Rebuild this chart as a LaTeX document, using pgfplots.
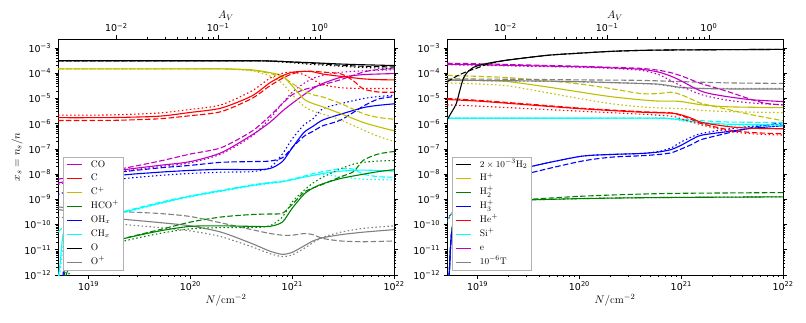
\documentclass[border=0pt]{standalone}
\usepackage{fontspec}
\usepackage{pgfplots}
\pgfplotsset{compat=1.18}
\newfontfamily\dejavu{DejaVu Sans}
\newcommand{\mm}{\char"2212\relax}
\definecolor{mpm}{rgb}{0.75,0,0.75}
\definecolor{mpr}{rgb}{1,0,0}
\definecolor{mpy}{rgb}{0.75,0.75,0}
\definecolor{mpg}{rgb}{0,0.5,0}
\definecolor{mpb}{rgb}{0,0,1}
\definecolor{mpc}{rgb}{0,1,1}
\definecolor{mpk}{rgb}{0,0,0}
\definecolor{mpgr}{rgb}{0.5,0.5,0.5}
\pgfplotsset{legend image code/.code={\draw[line width=1.1pt, #1] (0pt,0pt) -- (15pt,0pt);}}
\tikzset{
  crvA/.style={line width=1.1pt, smooth, tension=0.45},
  crvB/.style={crvA, dash pattern=on 5.5pt off 2.4pt},
  crvC/.style={crvA, dash pattern=on 1.5pt off 2.5pt},
  lgd/.style={at={(0.014,0.02)}, anchor=south west, draw=black!30, line width=0.6pt, fill=white,
      font=\fontsize{9.5}{11}\selectfont, inner xsep=3pt, inner ysep=2pt, row sep=2.2pt,
      nodes={inner sep=1.3pt, text height=6.8pt, text depth=2.3pt},
      every odd column/.append style={column sep=7.5pt}},
  tkl/.style={font=\dejavu\fontsize{9.5}{11}\selectfont},
  lbl/.style={font=\fontsize{11}{13}\selectfont},
  tks/.style={black, line width=0.6pt},
  axl/.style={line width=0.8pt}
}
\begin{document}
\begin{tikzpicture}
\path[use as bounding box] (0pt,0pt) rectangle (806pt,322pt);
% ---------------- left panel ----------------
\begin{axis}[at={(58pt,47pt)}, anchor=south west,
    scale only axis, width=336pt, height=236pt,
    xmode=log, ymode=log, xmin=5e18, xmax=1e22, ymin=1e-12, ymax=2.3e-3,
    xtickten={19,20,21,22}, ytickten={-12,-11,-10,-9,-8,-7,-6,-5,-4,-3},
    xticklabels={10\textsuperscript{19},10\textsuperscript{20},10\textsuperscript{21},10\textsuperscript{22}},
    yticklabels={10\textsuperscript{\mm12},10\textsuperscript{\mm11},10\textsuperscript{\mm10},10\textsuperscript{\mm9},10\textsuperscript{\mm8},10\textsuperscript{\mm7},10\textsuperscript{\mm6},10\textsuperscript{\mm5},10\textsuperscript{\mm4},10\textsuperscript{\mm3}},
    tick align=outside, xtick pos=left, ytick pos=both, yticklabel pos=left,
    tick label style={tkl}, major tick length=3.5pt, minor tick length=2pt,
    every tick/.style={tks}, axis line style={axl},
    xlabel={$N/\mathrm{cm}^{-2}$}, ylabel={$x_s = n_s/n$}, label style={lbl}, ylabel shift=-5pt, xlabel shift=-3pt,
    legend cell align=left, legend style={lgd}]
\addlegendimage{color=mpm}\addlegendentry{CO}
\addlegendimage{color=mpr}\addlegendentry{C}
\addlegendimage{color=mpy}\addlegendentry{C$^+$}
\addlegendimage{color=mpg}\addlegendentry{HCO$^+$}
\addlegendimage{color=mpb}\addlegendentry{OH$_x$}
\addlegendimage{color=mpc}\addlegendentry{CH$_x$}
\addlegendimage{color=mpk}\addlegendentry{O}
\addlegendimage{color=mpgr}\addlegendentry{O$^+$}
% O+
\addplot[forget plot, mpgr, crvA] coordinates {(5e18,3.98e-10) (1e19,2.51e-10) (2e19,1.70e-10) (5e19,1.20e-10) (1e20,8.91e-11) (2e20,5.01e-11) (4e20,1.78e-11) (6e20,8.91e-12) (8e20,6.61e-12) (1e21,7.94e-12) (1.3e21,1.41e-11) (1.6e21,2.24e-11) (2e21,3.02e-11) (3e21,3.98e-11) (5e21,5.01e-11) (1e22,6.31e-11)};
\addplot[forget plot, mpgr, crvB] coordinates {(5e18,5.01e-10) (1e19,3.98e-10) (2e19,3.31e-10) (5e19,2.75e-10) (1e20,2.09e-10) (2e20,1.17e-10) (4e20,6.31e-11) (6e20,4.47e-11) (8e20,3.80e-11) (1e21,3.80e-11) (1.3e21,4.37e-11) (1.6e21,3.98e-11) (2e21,2.82e-11) (3e21,2.24e-11) (5e21,2.09e-11) (1e22,2.24e-11)};
\addplot[forget plot, mpgr, crvC] coordinates {(5e18,2.0e-10) (1e19,1.41e-10) (2e19,1.05e-10) (5e19,7.59e-11) (1e20,5.62e-11) (2e20,3.31e-11) (4e20,1.32e-11) (6e20,7.08e-12) (8e20,5.37e-12) (1e21,6.31e-12) (1.3e21,1.12e-11) (1.6e21,1.91e-11) (2e21,3.16e-11) (3e21,5.01e-11) (5e21,7.08e-11) (1e22,8.91e-11)};
% O
\addplot[forget plot, mpk, crvA] coordinates {(5e18,3.16e-4) (1e19,3.16e-4) (1e20,3.16e-4) (4e20,3.16e-4) (6e20,3.09e-4) (8e20,2.95e-4) (1e21,2.82e-4) (1.6e21,2.63e-4) (3e21,2.34e-4) (5e21,2.19e-4) (1e22,2.04e-4)};
\addplot[forget plot, mpk, crvB] coordinates {(5e18,3.16e-4) (1e20,3.16e-4) (4e20,3.16e-4) (6e20,3.09e-4) (8e20,2.95e-4) (1e21,2.82e-4) (1.6e21,2.51e-4) (3e21,2.09e-4) (5e21,1.91e-4) (1e22,1.78e-4)};
\addplot[forget plot, mpk, crvC] coordinates {(5e18,3.16e-4) (1e20,3.16e-4) (4e20,3.16e-4) (6e20,3.02e-4) (8e20,2.82e-4) (1e21,2.63e-4) (1.6e21,2.24e-4) (3e21,1.91e-4) (5e21,1.70e-4) (1e22,1.55e-4)};
% CHx
\addplot[forget plot, mpc, crvA] coordinates {(5e18,6.31e-13) (5.25e18,3.16e-12) (5.6e18,3.98e-11) (6.3e18,1.12e-10) (1e19,1.58e-10) (2e19,2.82e-10) (5e19,7.08e-10) (1e20,1.32e-9) (2e20,2.19e-9) (4e20,3.55e-9) (6e20,4.47e-9) (8e20,5.01e-9) (1e21,6.03e-9) (1.3e21,7.59e-9) (1.6e21,8.91e-9) (2e21,1.07e-8) (3e21,1.32e-8) (5e21,1.45e-8) (1e22,1.32e-8)};
\addplot[forget plot, mpc, crvB] coordinates {(5e18,5.01e-11) (6.3e18,1.12e-10) (1e19,1.66e-10) (2e19,3.02e-10) (5e19,7.59e-10) (1e20,1.38e-9) (2e20,2.29e-9) (4e20,3.72e-9) (6e20,4.68e-9) (8e20,5.25e-9) (1e21,6.31e-9) (1.3e21,8.32e-9) (1.6e21,1.05e-8) (2e21,1.26e-8) (3e21,1.66e-8) (4e21,1.58e-8) (5e21,1e-8) (7e21,7.94e-9) (1e22,7.59e-9)};
\addplot[forget plot, mpc, crvC] coordinates {(5e18,3.16e-13) (5.37e18,3.16e-12) (5.75e18,3.16e-11) (6.3e18,1e-10) (1e19,1.51e-10) (2e19,2.69e-10) (5e19,6.76e-10) (1e20,1.26e-9) (2e20,2.09e-9) (4e20,3.39e-9) (6e20,4.27e-9) (8e20,5.01e-9) (1e21,6.31e-9) (1.3e21,7.94e-9) (1.6e21,8.91e-9) (2e21,9.55e-9) (3e21,7.94e-9) (5e21,6.31e-9) (1e22,5.89e-9)};
% HCO+
\addplot[forget plot, mpg, crvA] coordinates {(5e18,1e-13) (6e18,1e-12) (7e18,3.98e-12) (1e19,1e-11) (2e19,2.51e-11) (5e19,5.62e-11) (1e20,8.51e-11) (2e20,8.91e-11) (4e20,8.51e-11) (6e20,8.51e-11) (8e20,1.26e-10) (1e21,4.47e-10) (1.3e21,1.58e-9) (1.6e21,2.82e-9) (2e21,4.17e-9) (3e21,6.76e-9) (5e21,1e-8) (7e21,1.26e-8) (1e22,1.51e-8)};
\addplot[forget plot, mpg, crvB] coordinates {(5e18,1e-13) (5.75e18,1e-12) (6.6e18,3.16e-12) (1e19,1e-11) (2e19,2.51e-11) (5e19,6.31e-11) (1e20,1.26e-10) (2e20,2.0e-10) (4e20,2.51e-10) (6e20,2.63e-10) (8e20,2.82e-10) (1e21,6.31e-10) (1.3e21,1.91e-9) (1.6e21,2.82e-9) (2e21,3.98e-9) (3e21,7.94e-9) (4e21,1.26e-8) (5e21,3.55e-8) (7e21,6.31e-8) (1e22,7.94e-8)};
\addplot[forget plot, mpg, crvC] coordinates {(5e18,1e-13) (6.3e18,1e-12) (7.9e18,3.98e-12) (1e19,7.94e-12) (2e19,2.0e-11) (5e19,4.47e-11) (1e20,6.76e-11) (2e20,7.59e-11) (4e20,7.59e-11) (6e20,8.91e-11) (8e20,2e-10) (1e21,7.94e-10) (1.3e21,2.24e-9) (1.6e21,4.47e-9) (2e21,7.59e-9) (3e21,1.66e-8) (4e21,2.51e-8) (5e21,2.95e-8) (7e21,3.31e-8) (1e22,3.47e-8)};
% OHx
\addplot[forget plot, mpb, crvA] coordinates {(5e18,1e-13) (5.7e18,1e-12) (6e18,3.16e-11) (7e18,1e-9) (1e19,5.01e-9) (2e19,8.91e-9) (5e19,1.2e-8) (1e20,1.41e-8) (2e20,1.55e-8) (4e20,1.51e-8) (6e20,1.66e-8) (8e20,3.16e-8) (1e21,1.12e-7) (1.3e21,4.47e-7) (1.6e21,7.94e-7) (2e21,1.41e-6) (3e21,2.40e-6) (5e21,4.37e-6) (7e21,5.37e-6) (1e22,6.17e-6)};
\addplot[forget plot, mpb, crvB] coordinates {(5e18,1e-13) (5.6e18,1e-12) (6e18,1e-10) (7e18,2.51e-9) (1e19,7.94e-9) (2e19,1.2e-8) (5e19,1.78e-8) (1e20,2.24e-8) (2e20,2.95e-8) (4e20,3.16e-8) (6e20,3.31e-8) (8e20,4.47e-8) (1e21,1.12e-7) (1.3e21,3.16e-7) (1.6e21,5.01e-7) (2e21,8.32e-7) (3e21,1.41e-6) (5e21,5.01e-6) (7e21,9.55e-6) (1e22,1.20e-5)};
\addplot[forget plot, mpb, crvC] coordinates {(5e18,1.58e-9) (1e19,3.55e-9) (2e19,6.31e-9) (5e19,8.91e-9) (1e20,1.07e-8) (2e20,1.2e-8) (4e20,1.26e-8) (6e20,1.78e-8) (8e20,6.31e-8) (1e21,2.51e-7) (1.3e21,8.91e-7) (1.6e21,1.58e-6) (2e21,3.98e-6) (3e21,6.31e-6) (5e21,1e-5) (7e21,1.2e-5) (1e22,1.35e-5)};
% CO
\addplot[forget plot, mpm, crvA] coordinates {(5e18,4.47e-9) (1e19,7.94e-9) (2e19,1.41e-8) (5e19,2.24e-8) (1e20,3.16e-8) (2e20,7.08e-8) (4e20,3.55e-7) (6e20,1.12e-6) (8e20,3.16e-6) (1e21,6.46e-6) (1.3e21,1.41e-5) (1.6e21,2.51e-5) (2e21,3.98e-5) (3e21,6.92e-5) (5e21,8.91e-5) (1e22,9.77e-5)};
\addplot[forget plot, mpm, crvB] coordinates {(5e18,6.31e-9) (1e19,1e-8) (2e19,1.58e-8) (5e19,3.31e-8) (1e20,6.31e-8) (2e20,1.12e-7) (4e20,5.01e-7) (6e20,2.0e-6) (8e20,6.31e-6) (1e21,1.41e-5) (1.3e21,2.24e-5) (1.6e21,2.82e-5) (2e21,3.55e-5) (3e21,5.62e-5) (5e21,1.12e-4) (7e21,1.41e-4) (1e22,1.51e-4)};
\addplot[forget plot, mpm, crvC] coordinates {(5e18,3.98e-9) (1e19,7.08e-9) (2e19,1.26e-8) (5e19,2.0e-8) (1e20,2.82e-8) (2e20,6.31e-8) (4e20,3.16e-7) (6e20,1.58e-6) (8e20,6.31e-6) (1e21,1.78e-5) (1.3e21,3.98e-5) (1.6e21,6.31e-5) (2e21,8.32e-5) (3e21,1.10e-4) (5e21,1.26e-4) (1e22,1.38e-4)};
% C+
\addplot[forget plot, mpy, crvA] coordinates {(5e18,1.51e-4) (1e20,1.51e-4) (2e20,1.51e-4) (4e20,1.38e-4) (6e20,1.07e-4) (8e20,7.94e-5) (1e21,3.16e-5) (1.3e21,9.55e-6) (1.6e21,6.31e-6) (2e21,4.68e-6) (3e21,2.51e-6) (5e21,1.12e-6) (7e21,7.59e-7) (1e22,5.25e-7)};
\addplot[forget plot, mpy, crvB] coordinates {(5e18,1.51e-4) (1e20,1.51e-4) (2e20,1.51e-4) (4e20,1.32e-4) (6e20,1e-4) (8e20,7.08e-5) (1e21,3.98e-5) (1.3e21,2.0e-5) (1.6e21,1.41e-5) (2e21,1.15e-5) (3e21,6.31e-6) (5e21,2.51e-6) (7e21,1.78e-6) (1e22,1.51e-6)};
\addplot[forget plot, mpy, crvC] coordinates {(5e18,1.51e-4) (1e20,1.51e-4) (2e20,1.51e-4) (4e20,1.26e-4) (6e20,7.94e-5) (8e20,3.98e-5) (1e21,1.41e-5) (1.3e21,5.01e-6) (1.6e21,3.16e-6) (2e21,2.40e-6) (3e21,1.41e-6) (5e21,5.62e-7) (7e21,3.16e-7) (1e22,2.0e-7)};
% C
\addplot[forget plot, mpr, crvA] coordinates {(5e18,1.74e-6) (1e19,1.74e-6) (2e19,1.78e-6) (5e19,2.0e-6) (1e20,2.82e-6) (2e20,4.17e-6) (4e20,1.26e-5) (6e20,4.17e-5) (8e20,7.94e-5) (1e21,1.10e-4) (1.3e21,1.2e-4) (1.6e21,1.15e-4) (2e21,9.33e-5) (3e21,7.59e-5) (5e21,6.03e-5) (7e21,5.62e-5) (1e22,5.5e-5)};
\addplot[forget plot, mpr, crvB] coordinates {(5e18,1.35e-6) (1e19,1.35e-6) (2e19,1.38e-6) (5e19,1.58e-6) (1e20,2.09e-6) (2e20,3.02e-6) (4e20,1.0e-5) (6e20,3.16e-5) (8e20,6.31e-5) (1e21,9.55e-5) (1.3e21,1.2e-4) (1.6e21,1.2e-4) (2e21,1.12e-4) (3e21,9.55e-5) (4e21,5.01e-5) (5e21,2.40e-5) (7e21,1.82e-5) (1e22,1.78e-5)};
\addplot[forget plot, mpr, crvC] coordinates {(5e18,2.19e-6) (1e19,2.19e-6) (2e19,2.29e-6) (5e19,2.69e-6) (1e20,3.72e-6) (2e20,5.62e-6) (4e20,2.0e-5) (6e20,6.31e-5) (8e20,1.0e-4) (1e21,1.12e-4) (1.3e21,8.91e-5) (1.6e21,5.62e-5) (2e21,3.55e-5) (3e21,2.69e-5) (5e21,2.51e-5) (1e22,2.51e-5)};
\end{axis}
\begin{axis}[at={(58pt,47pt)}, anchor=south west,
    scale only axis, width=336pt, height=236pt,
    xmode=log, xmin=2.674e-3, xmax=5.348, ymin=0, ymax=1,
    axis x line*=top, hide y axis,
    xtickten={-2,-1,0},
    xticklabels={10\textsuperscript{\mm2},10\textsuperscript{\mm1},10\textsuperscript{0}},
    tick align=outside, tick label style={tkl},
    major tick length=3.5pt, minor tick length=2pt,
    every tick/.style={tks}, axis line style={axl},
    xlabel={$A_V$}, label style={lbl}, xlabel shift=-4pt]
\end{axis}
% ---------------- right panel ----------------
\begin{axis}[at={(447pt,47pt)}, anchor=south west,
    scale only axis, width=336pt, height=236pt,
    xmode=log, ymode=log, xmin=5e18, xmax=1e22, ymin=1e-12, ymax=2.3e-3,
    xtickten={19,20,21,22}, ytickten={-12,-11,-10,-9,-8,-7,-6,-5,-4,-3},
    xticklabels={10\textsuperscript{19},10\textsuperscript{20},10\textsuperscript{21},10\textsuperscript{22}},
    yticklabels={10\textsuperscript{\mm12},10\textsuperscript{\mm11},10\textsuperscript{\mm10},10\textsuperscript{\mm9},10\textsuperscript{\mm8},10\textsuperscript{\mm7},10\textsuperscript{\mm6},10\textsuperscript{\mm5},10\textsuperscript{\mm4},10\textsuperscript{\mm3}},
    tick align=outside, xtick pos=left, ytick pos=both, yticklabel pos=left,
    tick label style={tkl}, major tick length=3.5pt, minor tick length=2pt,
    every tick/.style={tks}, axis line style={axl},
    xlabel={$N/\mathrm{cm}^{-2}$}, label style={lbl}, xlabel shift=-3pt,
    legend cell align=left, legend style={lgd}]
\addlegendimage{color=mpk}\addlegendentry{$2\times10^{-3}\mathrm{H}_2$}
\addlegendimage{color=mpy}\addlegendentry{H$^+$}
\addlegendimage{color=mpg}\addlegendentry{H$_2^+$}
\addlegendimage{color=mpb}\addlegendentry{H$_3^+$}
\addlegendimage{color=mpr}\addlegendentry{He$^+$}
\addlegendimage{color=mpc}\addlegendentry{Si$^+$}
\addlegendimage{color=mpm}\addlegendentry{e}
\addlegendimage{color=mpgr}\addlegendentry{$10^{-6}$T}
% H2+
\addplot[forget plot, mpg, crvA] coordinates {(5e18,1e-13) (5.25e18,1e-12) (5.37e18,7.94e-12) (5.75e18,1.26e-10) (7.08e18,3.98e-10) (1e19,6.31e-10) (2e19,8.91e-10) (3.16e19,9.55e-10) (1e20,1.07e-9) (3.16e20,1.15e-9) (1e21,1.2e-9) (1e22,1.26e-9)};
\addplot[forget plot, mpg, crvB] coordinates {(5e18,1e-13) (5.25e18,1e-12) (5.37e18,7.94e-12) (5.75e18,1.26e-10) (7.08e18,3.98e-10) (1e19,6.31e-10) (2e19,8.91e-10) (3.16e19,1e-9) (1e20,1.32e-9) (3.16e20,1.58e-9) (1e21,1.74e-9) (1e22,1.86e-9)};
\addplot[forget plot, mpg, crvC] coordinates {(5e18,1.26e-10) (6e18,3.98e-10) (1e19,6.31e-10) (2e19,8.91e-10) (3.16e19,9.55e-10) (1e20,1.07e-9) (3.16e20,1.15e-9) (1e21,1.2e-9) (1e22,1.26e-9)};
% H3+
\addplot[forget plot, mpb, crvA] coordinates {(5e18,1e-13) (5.25e18,1e-12) (5.5e18,3.16e-11) (6.03e18,2e-10) (7.94e18,1e-9) (1.26e19,3.98e-9) (2e19,1e-8) (3.16e19,1.91e-8) (1e20,5.01e-8) (2e20,6.03e-8) (4e20,6.61e-8) (6e20,7.59e-8) (8e20,9.55e-8) (1e21,1.41e-7) (1.3e21,2.51e-7) (1.6e21,3.55e-7) (3e21,5.01e-7) (5e21,6.61e-7) (1e22,8.32e-7)};
\addplot[forget plot, mpb, crvB] coordinates {(5e18,1e-13) (5.25e18,1e-12) (5.5e18,3.98e-11) (6.03e18,1.58e-10) (7.94e18,6.31e-10) (1.26e19,2.51e-9) (2e19,5.62e-9) (3.16e19,1.07e-8) (1e20,3.16e-8) (2e20,4.68e-8) (4e20,5.37e-8) (6e20,6.03e-8) (8e20,7.08e-8) (1e21,1e-7) (1.3e21,1.58e-7) (1.6e21,2.40e-7) (3e21,4.47e-7) (5e21,7.08e-7) (1e22,1.12e-6)};
\addplot[forget plot, mpb, crvC] coordinates {(5e18,1.58e-10) (6e18,3.98e-10) (7.94e18,1e-9) (1.26e19,3.98e-9) (2e19,1e-8) (3.16e19,1.91e-8) (1e20,5.01e-8) (2e20,6.03e-8) (4e20,6.61e-8) (6e20,7.94e-8) (8e20,1.12e-7) (1e21,1.91e-7) (1.3e21,3.16e-7) (1.6e21,4.17e-7) (3e21,6.31e-7) (5e21,7.94e-7) (1e22,9.55e-7)};
% Si+
\addplot[forget plot, mpc, crvA] coordinates {(5e18,1.66e-6) (1e20,1.66e-6) (6e20,1.66e-6) (8e20,1.58e-6) (1e21,1.41e-6) (1.6e21,1.12e-6) (3e21,9.55e-7) (1e22,8.91e-7)};
\addplot[forget plot, mpc, crvB] coordinates {(5e18,1.66e-6) (1e20,1.66e-6) (6e20,1.66e-6) (8e20,1.62e-6) (1e21,1.51e-6) (1.6e21,1.32e-6) (3e21,1.17e-6) (1e22,1.12e-6)};
\addplot[forget plot, mpc, crvC] coordinates {(5e18,1.66e-6) (1e20,1.66e-6) (6e20,1.66e-6) (8e20,1.55e-6) (1e21,1.32e-6) (1.6e21,1e-6) (3e21,8.32e-7) (1e22,7.94e-7)};
% He+
\addplot[forget plot, mpr, crvA] coordinates {(5e18,9.12e-6) (1e19,7.94e-6) (3.16e19,5.62e-6) (1e20,3.98e-6) (4e20,2.88e-6) (8e20,2.63e-6) (1e21,2.24e-6) (1.3e21,1.58e-6) (1.6e21,1.12e-6) (3e21,7.59e-7) (5e21,6.61e-7) (1e22,6.31e-7)};
\addplot[forget plot, mpr, crvB] coordinates {(5e18,1e-5) (1e19,8.51e-6) (3.16e19,6.03e-6) (1e20,4.17e-6) (4e20,3.02e-6) (8e20,2.69e-6) (1e21,2.09e-6) (1.3e21,1.41e-6) (1.6e21,1e-6) (3e21,5.62e-7) (5e21,4.47e-7) (1e22,3.98e-7)};
\addplot[forget plot, mpr, crvC] coordinates {(5e18,5.62e-6) (1e19,5.01e-6) (3.16e19,3.98e-6) (1e20,3.16e-6) (4e20,2.40e-6) (8e20,2.0e-6) (1e21,1.58e-6) (1.6e21,8.91e-7) (3e21,5.01e-7) (5e21,3.98e-7) (1e22,3.55e-7)};
% H+
\addplot[forget plot, mpy, crvA] coordinates {(5e18,5.62e-5) (1e19,5.25e-5) (2e19,4.68e-5) (5e19,2.82e-5) (1e20,1.82e-5) (2e20,1.20e-5) (4e20,8.91e-6) (6e20,7.94e-6) (8e20,7.94e-6) (1e21,7.59e-6) (1.6e21,5.62e-6) (3e21,4.68e-6) (1e22,4.37e-6)};
\addplot[forget plot, mpy, crvB] coordinates {(5e18,8.32e-5) (1e19,7.59e-5) (2e19,6.76e-5) (5e19,5.01e-5) (1e20,3.80e-5) (2e20,2.51e-5) (4e20,1.58e-5) (6e20,1.58e-5) (8e20,1.78e-5) (1e21,1.41e-5) (1.3e21,8.91e-6) (1.6e21,6.31e-6) (3e21,3.55e-6) (5e21,2.24e-6) (1e22,1.32e-6)};
\addplot[forget plot, mpy, crvC] coordinates {(5e18,4.17e-5) (1e19,3.80e-5) (2e19,3.16e-5) (5e19,1.66e-5) (1e20,1e-5) (2e20,6.31e-6) (4e20,4.68e-6) (6e20,4.27e-6) (1e21,3.98e-6) (1.6e21,3.39e-6) (3e21,3.02e-6) (1e22,2.75e-6)};
% T
\addplot[forget plot, mpgr, crvA] coordinates {(5e18,5.37e-5) (3.16e19,5.01e-5) (1e20,4.68e-5) (4e20,3.98e-5) (6e20,3.72e-5) (8e20,3.16e-5) (1e21,2.75e-5) (1.6e21,2.51e-5) (3e21,2.40e-5) (1e22,2.40e-5)};
\addplot[forget plot, mpgr, crvB] coordinates {(5e18,6.03e-5) (3.16e19,5.75e-5) (1e20,5.5e-5) (4e20,5.25e-5) (1e21,4.68e-5) (3e21,4.17e-5) (1e22,3.98e-5)};
\addplot[forget plot, mpgr, crvC] coordinates {(5e18,5.25e-5) (3.16e19,4.9e-5) (1e20,4.57e-5) (4e20,3.89e-5) (6e20,3.55e-5) (1e21,2.63e-5) (1.6e21,2.51e-5) (1e22,2.51e-5)};
% e
\addplot[forget plot, mpm, crvA] coordinates {(5e18,2.29e-4) (1e19,2.19e-4) (3.16e19,2.0e-4) (1e20,1.82e-4) (2e20,1.66e-4) (4e20,1.45e-4) (6e20,1.12e-4) (8e20,7.59e-5) (1e21,5.01e-5) (1.3e21,2.82e-5) (1.6e21,1.91e-5) (2e21,1.51e-5) (3e21,1.15e-5) (5e21,8.91e-6) (1e22,7.59e-6)};
\addplot[forget plot, mpm, crvB] coordinates {(5e18,2.51e-4) (1e19,2.40e-4) (3.16e19,2.14e-4) (1e20,1.91e-4) (2e20,1.74e-4) (4e20,1.58e-4) (6e20,1.32e-4) (8e20,1.05e-4) (1e21,7.94e-5) (1.3e21,5.25e-5) (1.6e21,3.80e-5) (2e21,2.95e-5) (3e21,1.78e-5) (5e21,8.91e-6) (7e21,6.31e-6) (1e22,5.62e-6)};
\addplot[forget plot, mpm, crvC] coordinates {(5e18,2.19e-4) (1e19,2.09e-4) (3.16e19,1.91e-4) (1e20,1.74e-4) (2e20,1.58e-4) (4e20,1.32e-4) (6e20,8.91e-5) (8e20,5.01e-5) (1e21,3.16e-5) (1.3e21,1.91e-5) (1.6e21,1.41e-5) (2e21,1.12e-5) (3e21,8.32e-6) (5e21,6.61e-6) (1e22,5.62e-6)};
% 2e-3 H2
\addplot[forget plot, mpk, crvB] coordinates {(5e18,4.57e-5) (6.3e18,7.94e-5) (7.94e18,1.2e-4) (1e19,1.66e-4) (1.26e19,2.34e-4) (2e19,3.39e-4) (5e19,5.25e-4) (1e20,6.31e-4) (2e20,7.41e-4) (4e20,8.13e-4) (1e21,8.51e-4) (1e22,8.91e-4)};
\addplot[forget plot, mpk, crvA] coordinates {(5e18,1.41e-6) (5.62e18,3.16e-6) (6.17e18,6.31e-6) (6.76e18,2.51e-5) (7.24e18,6.31e-5) (7.94e18,1.12e-4) (9.12e18,1.74e-4) (1e19,2.0e-4) (1.26e19,2.51e-4) (2e19,3.39e-4) (5e19,5.25e-4) (1e20,6.31e-4) (2e20,7.41e-4) (4e20,8.13e-4) (1e21,8.51e-4) (1e22,8.91e-4)};
\end{axis}
\begin{axis}[at={(447pt,47pt)}, anchor=south west,
    scale only axis, width=336pt, height=236pt,
    xmode=log, xmin=2.674e-3, xmax=5.348, ymin=0, ymax=1,
    axis x line*=top, hide y axis,
    xtickten={-2,-1,0},
    xticklabels={10\textsuperscript{\mm2},10\textsuperscript{\mm1},10\textsuperscript{0}},
    tick align=outside, tick label style={tkl},
    major tick length=3.5pt, minor tick length=2pt,
    every tick/.style={tks}, axis line style={axl},
    xlabel={$A_V$}, label style={lbl}, xlabel shift=-4pt]
\end{axis}
\end{tikzpicture}
\end{document}
